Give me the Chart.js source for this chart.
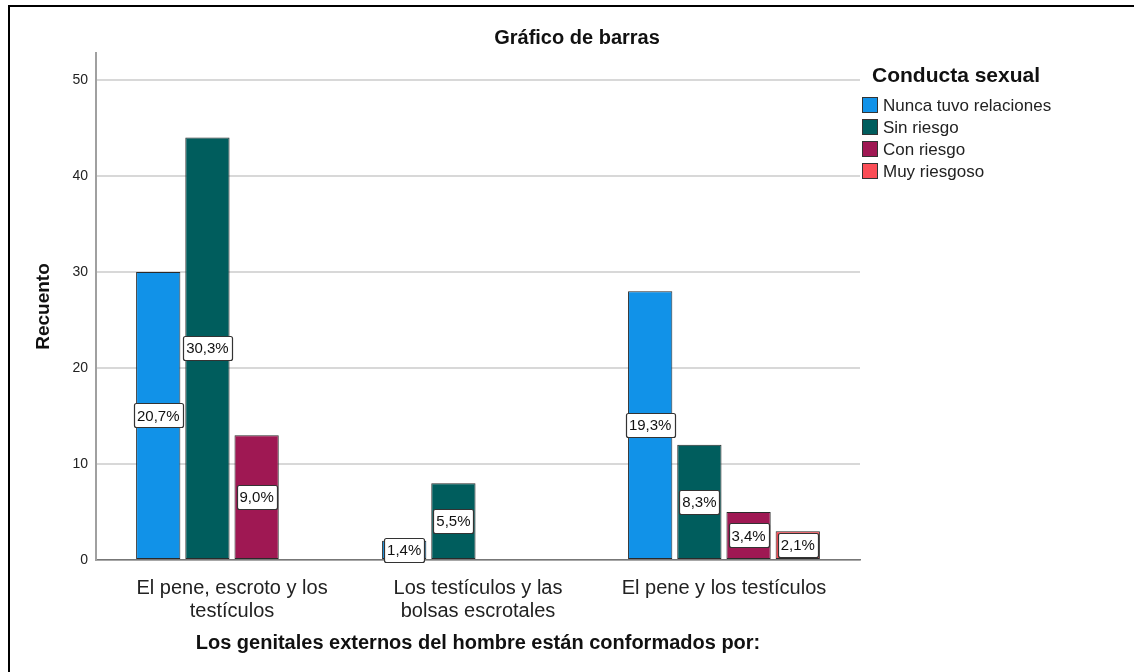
<!DOCTYPE html>
<html>
<head>
<meta charset="utf-8">
<script src="https://cdn.jsdelivr.net/npm/chart.js@4.4.0/dist/chart.umd.min.js"></script>
<style>
html, body { margin: 0; padding: 0; background: #fff; overflow: hidden; }
#frame { position: absolute; left: 8px; top: 5px; width: 1200px; height: 800px;
         border-left: 2px solid #000; border-top: 2px solid #000; }
#wrap { position: absolute; left: 0; top: 0; width: 1134px; height: 672px; }
</style>
</head>
<body>
<div id="frame"></div>
<div id="wrap"><canvas id="chart" width="1134" height="672"></canvas></div>
<script>
// categories (x axis)
const categories = [
  ['El pene, escroto y los', 'testículos'],
  ['Los testículos y las', 'bolsas escrotales'],
  'El pene y los testículos'
];
// series
const seriesNames = ['Nunca tuvo relaciones', 'Sin riesgo', 'Con riesgo', 'Muy riesgoso'];
const nunca       = [30, 2, 28];
const sinRiesgo   = [44, 8, 12];
const conRiesgo   = [13, null, 5];
const muyRiesgoso = [null, null, 3];
// percentage labels shown on bars
const pctNunca       = ['20,7%', '1,4%', '19,3%'];
const pctSinRiesgo   = ['30,3%', '5,5%', '8,3%'];
const pctConRiesgo   = ['9,0%', null, '3,4%'];
const pctMuyRiesgoso = [null, null, '2,1%'];
const yTicks = [0, 10, 20, 30, 40, 50];

const colors = ['#1192e8', '#005d5d', '#9f1853', '#fa4d56'];
const pctLabels = [pctNunca, pctSinRiesgo, pctConRiesgo, pctMuyRiesgoso];
const FONT = '"Liberation Sans", Arial, sans-serif';

const extras = {
  id: 'extras',
  afterDatasetsDraw(chart) {
    const ctx = chart.ctx;
    ctx.save();
    ctx.font = '15px ' + FONT;
    ctx.textAlign = 'center';
    ctx.textBaseline = 'middle';
    chart.data.datasets.forEach((ds, i) => {
      chart.getDatasetMeta(i).data.forEach((bar, j) => {
        const txt = pctLabels[i][j];
        if (!txt || ds.data[j] == null) return;
        const w = Math.round(ctx.measureText(txt).width + 6), h = 24;
        const cx = bar.x, cy = (bar.y + bar.base) / 2;
        const x0 = Math.round(cx - w / 2) + 0.5, y0 = Math.round(cy - h / 2) + 0.5;
        ctx.fillStyle = '#fff';
        ctx.strokeStyle = '#333';
        ctx.lineWidth = 1.2;
        ctx.beginPath();
        ctx.roundRect(x0, y0, w, h, 2);
        ctx.fill();
        ctx.stroke();
        ctx.fillStyle = '#111';
        ctx.fillText(txt, cx, cy + 1);
      });
    });
    ctx.restore();
  },
  afterDraw(chart) {
    const ctx = chart.ctx;
    ctx.save();
    // title
    ctx.fillStyle = '#111';
    ctx.font = 'bold 20px ' + FONT;
    ctx.textAlign = 'center';
    ctx.textBaseline = 'middle';
    ctx.fillText('Gráfico de barras', 577, 38);
    // legend
    ctx.textAlign = 'left';
    ctx.font = 'bold 21px ' + FONT;
    ctx.fillText('Conducta sexual', 872, 76);
    ctx.font = '17px ' + FONT;
    chart.data.datasets.forEach((ds, i) => {
      const top = 97 + i * 22;
      ctx.fillStyle = ds.backgroundColor;
      ctx.fillRect(862, top, 16, 16);
      ctx.strokeStyle = '#333';
      ctx.lineWidth = 1;
      ctx.strokeRect(862.5, top + 0.5, 15, 15);
      ctx.fillStyle = '#222';
      ctx.fillText(ds.label, 883, top + 9);
    });
    ctx.restore();
  }
};

const series = [nunca, sinRiesgo, conRiesgo, muyRiesgoso];

new Chart(document.getElementById('chart'), {
  type: 'bar',
  data: {
    labels: categories,
    datasets: series.map((d, i) => ({
      label: seriesNames[i],
      data: d,
      backgroundColor: colors[i],
      borderColor: '#2a2a2a',
      borderWidth: 1,
      borderSkipped: false,
      barPercentage: 0.9,
      categoryPercentage: 0.8
    }))
  },
  options: {
    responsive: false,
    animation: false,
    layout: { padding: { top: 53, left: 16, right: 274, bottom: 0 } },
    plugins: {
      legend: { display: false },
      title: { display: false },
      tooltip: { enabled: false }
    },
    scales: {
      x: {
        grid: { display: false },
        border: { color: '#777', width: 1.5 },
        ticks: { color: '#222', padding: 9, font: { family: FONT, size: 20, lineHeight: 1.15 } },
        title: {
          display: true,
          text: 'Los genitales externos del hombre están conformados por:',
          color: '#111',
          font: { family: FONT, size: 20, weight: 'bold', lineHeight: 1.2 },
          padding: { top: 0, bottom: 17 }
        },
        afterFit: s => { s.height = 112; },
        afterBuildTicks: s => { s._startValue = -0.553; s._valueRange = 3.106; }
      },
      y: {
        min: 0,
        max: 52.8,
        grid: { color: '#d8d8d8', lineWidth: 2, drawTicks: false },
        border: { color: '#a0a0a0', width: 2 },
        ticks: {
          color: '#222', padding: 8, stepSize: 10, includeBounds: false,
          font: { family: FONT, size: 14 }
        },
        afterBuildTicks: s => { s.ticks = yTicks.map(v => ({ value: v })); },
        title: {
          display: true,
          text: 'Recuento',
          color: '#111',
          font: { family: FONT, size: 19, weight: 'bold', lineHeight: 1.2 },
          padding: { top: 16, bottom: 0 }
        },
        afterFit: s => { s.width = 80; }
      }
    }
  },
  plugins: [extras]
});
</script>
</body>
</html>
